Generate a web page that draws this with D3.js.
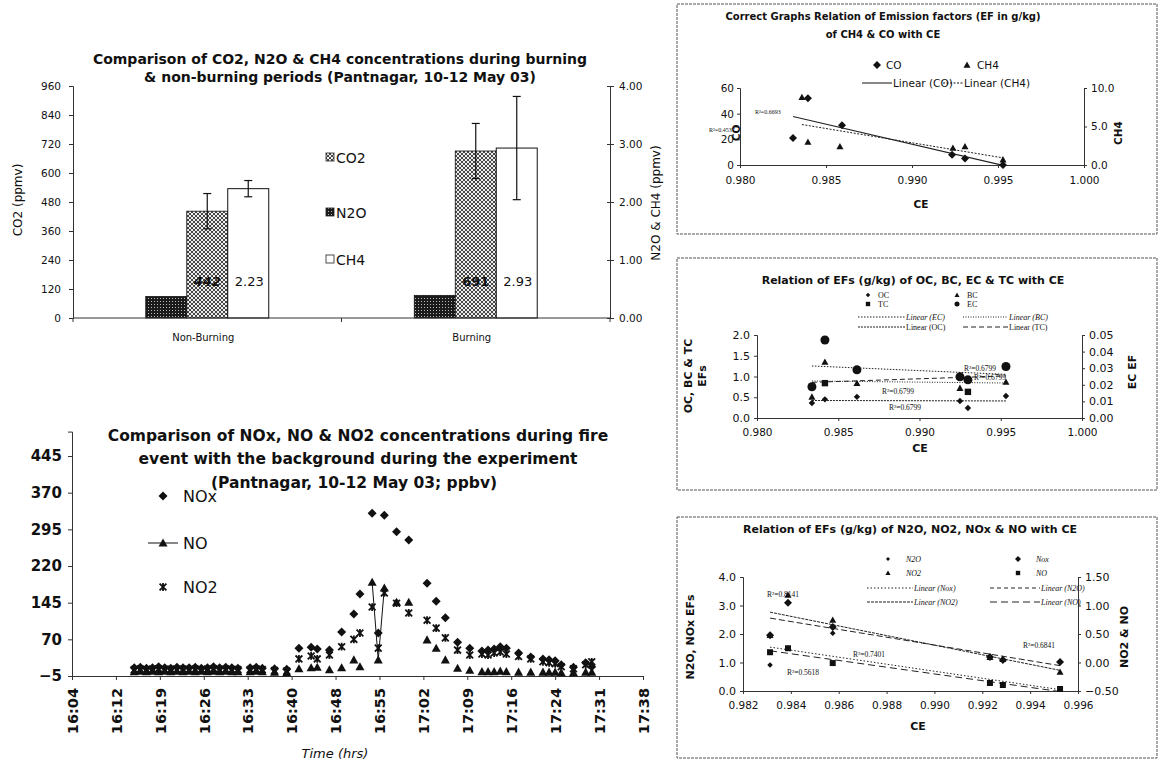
<!DOCTYPE html>
<html><head><meta charset="utf-8">
<script src="https://cdn.jsdelivr.net/npm/d3@7"></script>
<style>
body{margin:0;background:#fff;}
svg{display:block;}
text{font-family:"DejaVu Sans",Verdana,sans-serif;fill:#111;}
.serif{font-family:"Liberation Serif","DejaVu Serif",serif;}
</style></head><body>
<svg id="c" width="1159" height="763"></svg>
<script>
// ================= DATA =================
// Panel 1: bar chart
const barCategories = ["Non-Burning", "Burning"];
const legendSeries = ["CO2", "N2O", "CH4"];
const darkBarValues = [0.37, 0.39];       // right axis (ppmv)
const co2Values = [442, 691];             // left axis (ppmv)
const co2Errors = [73, 114];
const ch4Values = [2.23, 2.93];           // right axis (ppmv)
const ch4Errors = [0.14, 0.89];
const co2Ticks = [0, 120, 240, 360, 480, 600, 720, 840, 960];
const ppmvTicks = [0, 1, 2, 3, 4];

// Panel 2: NOx / NO / NO2 time series (ppbv)
const sampleTimes = ["16:15:00","16:16:00","16:17:00","16:18:00","16:19:00","16:20:00","16:21:00","16:22:00","16:23:00","16:24:00","16:25:00","16:26:00","16:27:00","16:28:00","16:29:00","16:30:00","16:31:00","16:32:00","16:34:00","16:35:00","16:36:00","16:38:00","16:40:00","16:42:00","16:44:00","16:45:00","16:47:00","16:49:00","16:51:00","16:52:00","16:54:00","16:55:00","16:56:00","16:58:00","17:00:00","17:03:00","17:04:30","17:06:00","17:08:00","17:10:00","17:12:00","17:13:00","17:14:00","17:15:00","17:16:00","17:18:00","17:20:00","17:22:00","17:23:00","17:24:00","17:25:00","17:27:00","17:29:00","17:30:00"];
const noxSeries = [12,13,11,12,14,12,11,13,12,12,13,11,12,14,12,13,12,11,12,13,11,10,9,52,54,50,48,85,122,163,328,83,324,290,273,185,148,114,64,52,46,48,50,55,52,42,34,30,28,26,18,13,22,14];
const noSeries  = [4,5,4,5,4,5,4,5,4,5,4,5,4,5,4,5,4,4,4,5,4,3,2,10,12,13,8,12,28,14,187,28,175,146,146,69,52,28,11,7,4,4,4,5,4,3,3,3,3,3,2,2,3,3];
const no2Series = [8,9,8,9,10,8,9,8,9,8,9,8,9,10,8,9,8,8,8,9,8,6,5,30,36,30,38,55,70,83,136,52,165,144,124,109,93,73,48,38,40,38,42,44,40,35,30,24,22,20,14,10,18,24];
const noLinkedTimes = ["16:54:00","16:55:00","16:56:00"];
const timeTicks = ["16:04:48","16:12:00","16:19:12","16:26:24","16:33:36","16:40:48","16:48:00","16:55:12","17:02:24","17:09:36","17:16:48","17:24:00","17:31:12","17:38:24"];
const ppbvTicks = [-5, 70, 145, 220, 295, 370, 445];

// Panel 3: CO & CH4 EF vs CE
const ceCO  = [0.98308, 0.98395, 0.98593, 0.99233, 0.99308, 0.99529];
const efCO  = [21, 52, 31, 8, 5, 0];
const ceCH4 = [0.98360, 0.98395, 0.98581, 0.99238, 0.99308, 0.99529];
const efCH4 = [8.8, 3.0, 2.4, 2.2, 2.4, 0.7];
const ceTicks3 = [0.980, 0.985, 0.990, 0.995, 1.000];
const coTicks = [0, 20, 40, 60];
const ch4Ticks = [0, 5, 10];

// Panel 4: OC, BC, EC, TC EF vs CE
const ceCarbon = [0.98338, 0.98418, 0.98615, 0.99249, 0.99298, 0.99532];
const efOC = [0.36, 0.45, 0.51, 0.41, 0.24, 0.53];
const efBC = [0.51, 1.35, 0.84, 0.72, 0.92, 0.87];
const efTC = [0.75, 0.84, 1.16, 0.99, 0.63, 1.23];
const efEC = [0.0188, 0.047, 0.029, 0.0248, 0.023, 0.031];
const ceTicks4 = [0.980, 0.985, 0.990, 0.995, 1.000];
const carbonTicks = [0, 0.5, 1.0, 1.5, 2.0];
const ecTicks = [0, 0.01, 0.02, 0.03, 0.04, 0.05];

// Panel 5: N2O, NO2, NOx, NO EF vs CE
const ceNitrogen = [0.98313, 0.98388, 0.98575, 0.99232, 0.99286, 0.99525];
const efNOx = [1.96, 3.10, 2.25, 1.19, 1.09, 1.02];
const efN2O = [0.91, 1.50, 2.03, 0.28, 0.21, 0.07];
const efNO2 = [0.48, 1.185, 0.745, 0.095, 0.06, -0.165];
const efNO  = [0.18, 0.25, -0.01, -0.36, -0.395, -0.465];
const ceTicks5 = [0.982, 0.984, 0.986, 0.988, 0.990, 0.992, 0.994, 0.996];
const nLeftTicks = [0, 1, 2, 3, 4];
const nRightTicks = [-0.5, 0, 0.5, 1.0, 1.5];

// ================= HELPERS =================
const FONT = '"DejaVu Sans",Verdana,sans-serif';
const svg = d3.select("#c");
const defs = svg.append("defs");
const pd = defs.append("pattern").attr("id","pDark").attr("width",3).attr("height",3).attr("patternUnits","userSpaceOnUse");
pd.append("rect").attr("width",3).attr("height",3).attr("fill","#1a1a1a");
pd.append("rect").attr("x",1).attr("y",1).attr("width",1).attr("height",1).attr("fill","#bbb");
const pl = defs.append("pattern").attr("id","pLight").attr("width",4).attr("height",4).attr("patternUnits","userSpaceOnUse");
pl.append("rect").attr("width",4).attr("height",4).attr("fill","#eee");
pl.append("path").attr("d","M0,0L4,4M4,0L0,4").attr("stroke","#333").attr("stroke-width",0.9);

function mk(type, r){
  switch(type){
    case "diamond": return `M0,${-r}L${r},0L0,${r}L${-r},0Z`;
    case "triangle": return `M0,${-r}L${r},${r*0.8}L${-r},${r*0.8}Z`;
    case "square": return `M${-r},${-r}h${2*r}v${2*r}h${-2*r}Z`;
    case "star": return `M${-r},${-r}L${r},${r}M${r},${-r}L${-r},${r}M0,${-r*1.15}L0,${r*1.15}`;
  }
}
function marker(g, type, r, x, y){
  if(type === "circle") return g.append("circle").attr("cx",x).attr("cy",y).attr("r",r).attr("fill","#111");
  const p = g.append("path").attr("d", mk(type, r)).attr("transform", `translate(${x},${y})`);
  if(type === "star") p.attr("fill","none").attr("stroke","#111").attr("stroke-width",1.8);
  else p.attr("fill","#111");
  return p;
}
function styleAxis(g, fs, weight){
  g.select(".domain").attr("stroke","#333").attr("stroke-width",1);
  g.selectAll(".tick line").attr("stroke","#333");
  g.selectAll("text").attr("fill","#111").style("font-size", fs + "px").style("font-weight", weight || "normal")
    .style("font-family", FONT);
}
function txt(x, y, s, fs, opt){
  opt = opt || {};
  const t = svg.append("text").attr("x",x).attr("y",y).text(s).style("font-size",fs+"px")
    .attr("text-anchor", opt.anchor || "middle").style("font-weight", opt.weight || "normal");
  if(opt.italic) t.style("font-style","italic");
  if(opt.serif) t.attr("class","serif");
  if(opt.rotate) t.attr("transform", `rotate(-90,${x},${y})`);
  return t;
}
function linReg(xs, ys){
  const mx = d3.mean(xs), my = d3.mean(ys);
  let sxy = 0, sxx = 0;
  xs.forEach((x,i) => { sxy += (x-mx)*(ys[i]-my); sxx += (x-mx)*(x-mx); });
  const b = sxy / sxx;
  return {a: my - b*mx, b: b, x0: d3.min(xs), x1: d3.max(xs)};
}
function trend(g, xs, ys, xS, yS, dash, w){
  const r = linReg(xs, ys);
  g.append("line").attr("x1", xS(r.x0)).attr("y1", yS(r.a + r.b*r.x0))
    .attr("x2", xS(r.x1)).attr("y2", yS(r.a + r.b*r.x1))
    .attr("stroke","#222").attr("stroke-width", w || 1).attr("stroke-dasharray", dash || null);
}
function box(x0, y0, x1, y1){
  svg.append("rect").attr("x",x0).attr("y",y0).attr("width",x1-x0).attr("height",y1-y0)
    .attr("fill","none").attr("stroke","#555").attr("stroke-width",1).attr("stroke-dasharray","3,1");
}

// ================= PANEL 1 =================
{
  const L = 73, R = 610, T = 86, B = 318;
  const g = svg.append("g");
  const x0 = d3.scaleBand().domain(barCategories).range([L, R]);
  const bw = x0.bandwidth();
  const x1 = d3.scaleBand().domain(["dark","light","white"]).range([bw*0.271, bw*0.729]);
  const yL = d3.scaleLinear().domain([0, 960]).range([B, T]);
  const yR = d3.scaleLinear().domain([0, 4]).range([B, T]);

  txt(340, 64, "Comparison of CO2, N2O & CH4 concentrations during burning", 14, {weight:"bold"});
  txt(340, 82, "& non-burning periods (Pantnagar, 10-12 May 03)", 14, {weight:"bold"});

  barCategories.forEach((c, i) => {
    const gx = x0(c);
    g.append("rect").attr("x", gx + x1("dark")).attr("y", yR(darkBarValues[i])).attr("width", x1.bandwidth())
      .attr("height", B - yR(darkBarValues[i])).attr("fill","url(#pDark)").attr("stroke","#111").attr("stroke-width",0.8);
    g.append("rect").attr("x", gx + x1("light")).attr("y", yL(co2Values[i])).attr("width", x1.bandwidth())
      .attr("height", B - yL(co2Values[i])).attr("fill","url(#pLight)").attr("stroke","#111").attr("stroke-width",0.8);
    g.append("rect").attr("x", gx + x1("white")).attr("y", yR(ch4Values[i])).attr("width", x1.bandwidth())
      .attr("height", B - yR(ch4Values[i])).attr("fill","#fff").attr("stroke","#111").attr("stroke-width",1);
    const ex = gx + x1("light") + x1.bandwidth()/2;
    const ey1 = yL(co2Values[i] + co2Errors[i]), ey2 = yL(co2Values[i] - co2Errors[i]);
    g.append("line").attr("x1",ex).attr("x2",ex).attr("y1",ey1).attr("y2",ey2).attr("stroke","#111").attr("stroke-width",1.2);
    [ey1, ey2].forEach(v => g.append("line").attr("x1",ex-4).attr("x2",ex+4).attr("y1",v).attr("y2",v).attr("stroke","#111").attr("stroke-width",1.2));
    const cx = gx + x1("white") + x1.bandwidth()/2;
    const cy1 = yR(ch4Values[i] + ch4Errors[i]), cy2 = yR(ch4Values[i] - ch4Errors[i]);
    g.append("line").attr("x1",cx).attr("x2",cx).attr("y1",cy1).attr("y2",cy2).attr("stroke","#111").attr("stroke-width",1.2);
    [cy1, cy2].forEach(v => g.append("line").attr("x1",cx-4).attr("x2",cx+4).attr("y1",v).attr("y2",v).attr("stroke","#111").attr("stroke-width",1.2));
    txt(ex, 286, String(co2Values[i]), 13, {italic: i === 0, weight:"bold"});
    txt(cx + 1, 286, d3.format(".2f")(ch4Values[i]), 13);
  });

  const ax = g.append("g").attr("transform", `translate(${L},0)`)
    .call(d3.axisLeft(yL).tickValues(co2Ticks).tickSize(4).tickPadding(8));
  styleAxis(ax, 10.5);
  const axr = g.append("g").attr("transform", `translate(${R},0)`)
    .call(d3.axisRight(yR).tickValues(ppmvTicks).tickFormat(d3.format(".2f")).tickSize(4).tickPadding(5));
  styleAxis(axr, 10.5);
  axr.selectAll(".tick").append("line").attr("x1",-3).attr("x2",0).attr("stroke","#333");
  g.append("line").attr("x1",L).attr("x2",R).attr("y1",B).attr("y2",B).attr("stroke","#333");
  [L, L + bw, R].forEach(v => g.append("line").attr("x1",v).attr("x2",v).attr("y1",B).attr("y2",B+4).attr("stroke","#333"));
  barCategories.forEach(c => txt(x0(c) + bw/2 - 4, 341, c, 10));

  txt(22, 200, "CO2 (ppmv)", 12, {rotate:true});
  txt(660, 203, "N2O & CH4 (ppmv)", 12, {rotate:true});

  const legFill = ["url(#pLight)", "url(#pDark)", "#fff"];
  legendSeries.forEach((s, i) => {
    const ly = [158, 213, 260][i];
    g.append("rect").attr("x",326).attr("y",ly-5).attr("width",8).attr("height",8)
      .attr("fill", legFill[i]).attr("stroke","#222").attr("stroke-width",0.8);
    txt(336, ly + 5, s, 14, {anchor:"start"});
  });
}

// ================= PANEL 2 =================
{
  const g = svg.append("g");
  const parseT = d3.timeParse("%H:%M:%S");
  const xT = d3.scaleTime().domain([parseT(timeTicks[0]), parseT(timeTicks[timeTicks.length-1])]).range([72, 643]);
  const yN = d3.scaleLinear().domain([-5, 495]).range([676, 431.6]);

  txt(358, 441, "Comparison of NOx, NO & NO2 concentrations during fire", 15.5, {weight:"bold"});
  txt(358, 464, "event with the background during the experiment", 15.5, {weight:"bold"});
  txt(354, 488, "(Pantnagar, 10-12 May 03; ppbv)", 15.5, {weight:"bold"});

  const ay = g.append("g").attr("transform","translate(72,0)")
    .call(d3.axisLeft(yN).tickValues(ppbvTicks).tickSize(4).tickPadding(6));
  styleAxis(ay, 15, "bold");
  const axx = g.append("g").attr("transform", `translate(0,${yN(-5)})`)
    .call(d3.axisBottom(xT).tickValues(timeTicks.map(parseT)).tickFormat(d3.timeFormat("%H:%M")).tickSize(4));
  styleAxis(axx, 14.5, "bold");
  axx.selectAll("text").attr("transform","rotate(-90)").attr("x",-12).attr("y",0).attr("dy","0.36em").style("text-anchor","end");

  const rows = sampleTimes.map((t, i) => ({t: parseT(t), s: t, nox: noxSeries[i], no: noSeries[i], no2: no2Series[i]}));
  const line = d3.line().defined(d => noLinkedTimes.includes(d.s)).x(d => xT(d.t)).y(d => yN(d.no));
  g.append("path").datum(rows).attr("d", line).attr("fill","none").attr("stroke","#111").attr("stroke-width",1);
  rows.forEach(d => {
    marker(g, "diamond", 4.5, xT(d.t), yN(d.nox));
    marker(g, "triangle", 4.5, xT(d.t), yN(d.no));
    marker(g, "star", 3.4, xT(d.t), yN(d.no2));
  });

  marker(g, "diamond", 4.5, 163, 496);
  txt(183, 502, "NOx", 16, {anchor:"start"});
  g.append("line").attr("x1",148).attr("x2",178).attr("y1",543).attr("y2",543).attr("stroke","#111");
  marker(g, "triangle", 4.5, 163, 543);
  txt(183, 549, "NO", 16, {anchor:"start"});
  marker(g, "star", 3.4, 163, 587);
  txt(183, 593, "NO2", 16, {anchor:"start"});

  txt(335, 758, "Time (hrs)", 13, {italic:true});
}

// ================= PANEL 3 =================
{
  box(677, 4, 1157, 234);
  const g = svg.append("g");
  const x = d3.scaleLinear().domain([0.980, 1.000]).range([740, 1084]);
  const yL = d3.scaleLinear().domain([0, 60]).range([165, 88]);
  const yR = d3.scaleLinear().domain([0, 10]).range([165, 88]);
  txt(883, 20, "Correct Graphs Relation of Emission factors (EF in g/kg)", 10, {weight:"bold"});
  txt(883, 38, "of CH4 & CO with CE", 10, {weight:"bold"});

  const ax = g.append("g").attr("transform","translate(0,165)").call(d3.axisBottom(x).tickValues(ceTicks3).tickFormat(d3.format(".3f")).tickSize(3).tickPadding(9));
  styleAxis(ax, 10.5);
  const ayl = g.append("g").attr("transform","translate(740,0)").call(d3.axisLeft(yL).tickValues(coTicks).tickSize(3).tickPadding(3));
  styleAxis(ayl, 10.5);
  const ayr = g.append("g").attr("transform","translate(1084,0)").call(d3.axisRight(yR).tickValues(ch4Ticks).tickFormat(d3.format(".1f")).tickSize(3).tickPadding(4));
  styleAxis(ayr, 10.5);
  txt(921, 208, "CE", 10.5, {weight:"bold"});
  txt(740, 133, "CO", 10.5, {weight:"bold", rotate:true});
  txt(1122, 133, "CH4", 10.5, {weight:"bold", rotate:true});

  trend(g, ceCO, efCO, x, yL, null, 1.1);
  trend(g, ceCH4, efCH4, x, yR, "2,1.5", 1);
  ceCO.forEach((c, i) => marker(g, "diamond", 4, x(c), yL(efCO[i])));
  ceCH4.forEach((c, i) => marker(g, "triangle", 3.5, x(c), yR(efCH4[i])));
  txt(755, 114, "R²=0.6693", 6, {anchor:"start", serif:true});
  txt(709, 132, "R²=0.4537", 6, {anchor:"start", serif:true});

  marker(g, "diamond", 4, 877, 65);
  txt(886, 69, "CO", 10.5, {anchor:"start"});
  marker(g, "triangle", 3.5, 967, 65);
  txt(977, 69, "CH4", 10.5, {anchor:"start"});
  g.append("line").attr("x1",862).attr("x2",892).attr("y1",83).attr("y2",83).attr("stroke","#111");
  txt(893, 87, "Linear (CO)", 10.5, {anchor:"start"});
  g.append("line").attr("x1",943).attr("x2",963).attr("y1",83).attr("y2",83).attr("stroke","#111").attr("stroke-dasharray","2,1.5");
  txt(964, 87, "Linear (CH4)", 10.5, {anchor:"start"});
}

// ================= PANEL 4 =================
{
  box(677, 258, 1157, 490);
  const g = svg.append("g");
  const x = d3.scaleLinear().domain([0.980, 1.000]).range([757, 1082]);
  const yL = d3.scaleLinear().domain([0, 2]).range([418, 335]);
  const yR = d3.scaleLinear().domain([0, 0.05]).range([418, 335]);
  txt(913, 284, "Relation of EFs (g/kg) of OC, BC, EC & TC with CE", 11, {weight:"bold"});

  const ax = g.append("g").attr("transform","translate(0,418)").call(d3.axisBottom(x).tickValues(ceTicks4).tickFormat(d3.format(".3f")).tickSize(3).tickPadding(8));
  styleAxis(ax, 10.5);
  const ayl = g.append("g").attr("transform","translate(757,0)").call(d3.axisLeft(yL).tickValues(carbonTicks).tickFormat(d3.format(".1f")).tickSize(3).tickPadding(4));
  styleAxis(ayl, 11);
  const ayr = g.append("g").attr("transform","translate(1082,0)").call(d3.axisRight(yR).tickValues(ecTicks).tickFormat(d3.format(".2f")).tickSize(3).tickPadding(4));
  styleAxis(ayr, 11);
  txt(920, 452, "CE", 11, {weight:"bold"});
  txt(692, 376, "OC, BC & TC", 11, {weight:"bold", rotate:true});
  txt(706, 376, "EFs", 11, {weight:"bold", rotate:true});
  txt(1136, 372, "EC EF", 11, {weight:"bold", rotate:true});

  trend(g, ceCarbon, efEC, x, yR, "1.5,1.5", 1);
  trend(g, ceCarbon, efBC, x, yL, "1,1.5", 1);
  trend(g, ceCarbon, efOC, x, yL, "2,1", 1);
  trend(g, ceCarbon, efTC, x, yL, "5,3", 1);
  ceCarbon.forEach((c, i) => {
    marker(g, "square", 3.2, x(c), yL(efTC[i]));
    marker(g, "circle", 4.5, x(c), yR(efEC[i]));
    marker(g, "triangle", 3.5, x(c), yL(efBC[i]));
    marker(g, "diamond", 3.2, x(c), yL(efOC[i]));
  });
  txt(898, 394, "R²=0.6799", 7.5, {serif:true});
  txt(905, 410, "R²=0.6799", 7.5, {serif:true});
  txt(980, 371, "R²=0.6799", 7.5, {serif:true});
  txt(990, 380, "R²=0.6799", 7.5, {serif:true});

  marker(g, "diamond", 2.2, 868, 295); txt(878, 298, "OC", 8, {anchor:"start", serif:true});
  marker(g, "triangle", 2.5, 957, 295); txt(967, 298, "BC", 8, {anchor:"start", serif:true});
  marker(g, "square", 2.2, 868, 304); txt(878, 307, "TC", 8, {anchor:"start", serif:true});
  marker(g, "circle", 2.5, 957, 304); txt(967, 307, "EC", 8, {anchor:"start", serif:true});
  g.append("line").attr("x1",858).attr("x2",905).attr("y1",317).attr("y2",317).attr("stroke","#222").attr("stroke-dasharray","1.5,1.5");
  txt(906, 320, "Linear (EC)", 8, {anchor:"start", serif:true, italic:true});
  g.append("line").attr("x1",963).attr("x2",1008).attr("y1",317).attr("y2",317).attr("stroke","#222").attr("stroke-dasharray","1,1.5");
  txt(1009, 320, "Linear (BC)", 8, {anchor:"start", serif:true, italic:true});
  g.append("line").attr("x1",858).attr("x2",905).attr("y1",327).attr("y2",327).attr("stroke","#222").attr("stroke-dasharray","2,1");
  txt(906, 330, "Linear (OC)", 8, {anchor:"start", serif:true});
  g.append("line").attr("x1",963).attr("x2",1008).attr("y1",327).attr("y2",327).attr("stroke","#222").attr("stroke-dasharray","5,3");
  txt(1009, 330, "Linear (TC)", 8, {anchor:"start", serif:true});
}

// ================= PANEL 5 =================
{
  box(677, 517, 1157, 758);
  const g = svg.append("g");
  const x = d3.scaleLinear().domain([0.982, 0.996]).range([743, 1078]);
  const yL = d3.scaleLinear().domain([0, 4]).range([691, 577]);
  const yR = d3.scaleLinear().domain([-0.5, 1.5]).range([691, 577]);
  txt(910, 533, "Relation of EFs (g/kg) of N2O, NO2, NOx & NO with CE", 11, {weight:"bold"});

  const ax = g.append("g").attr("transform","translate(0,691)").call(d3.axisBottom(x).tickValues(ceTicks5).tickFormat(d3.format(".3f")).tickSize(3).tickPadding(8));
  styleAxis(ax, 10.5);
  const ayl = g.append("g").attr("transform","translate(743,0)").call(d3.axisLeft(yL).tickValues(nLeftTicks).tickFormat(d3.format(".1f")).tickSize(3).tickPadding(4));
  styleAxis(ayl, 11);
  const ayr = g.append("g").attr("transform","translate(1078,0)").call(d3.axisRight(yR).tickValues(nRightTicks).tickFormat(d3.format(".2f")).tickSize(3).tickPadding(4));
  styleAxis(ayr, 11);
  txt(918, 730, "CE", 11, {weight:"bold"});
  txt(694, 637, "N2O, NOx EFs", 11, {weight:"bold", rotate:true});
  txt(1128, 637, "NO2 & NO", 11, {weight:"bold", rotate:true});

  trend(g, ceNitrogen, efNOx, x, yL, "6,3", 1);
  trend(g, ceNitrogen, efN2O, x, yL, "1.5,2", 1);
  trend(g, ceNitrogen, efNO2, x, yR, "3,1", 1);
  trend(g, ceNitrogen, efNO, x, yR, "7,4", 1);
  ceNitrogen.forEach((c, i) => {
    marker(g, "diamond", 4, x(c), yL(efNOx[i]));
    marker(g, "diamond", 2.8, x(c), yL(efN2O[i]));
    marker(g, "triangle", 3.5, x(c), yR(efNO2[i]));
    marker(g, "square", 3, x(c), yR(efNO[i]));
  });
  txt(783, 597, "R²=0.8141", 7.5, {serif:true});
  txt(869, 657, "R²=0.7401", 7.5, {serif:true});
  txt(803, 675, "R²=0.5618", 7.5, {serif:true});
  txt(1039, 648, "R²=0.6841", 7.5, {serif:true});

  marker(g, "diamond", 2, 888, 559); txt(906, 562, "N2O", 8, {anchor:"start", serif:true, italic:true});
  marker(g, "diamond", 3, 1018, 559); txt(1036, 562, "Nox", 8, {anchor:"start", serif:true, italic:true});
  marker(g, "triangle", 2.6, 888, 573); txt(906, 576, "NO2", 8, {anchor:"start", serif:true, italic:true});
  marker(g, "square", 2.2, 1018, 573); txt(1036, 576, "NO", 8, {anchor:"start", serif:true, italic:true});
  g.append("line").attr("x1",867).attr("x2",913).attr("y1",588).attr("y2",588).attr("stroke","#222").attr("stroke-dasharray","1.5,2");
  txt(914, 591, "Linear (Nox)", 8, {anchor:"start", serif:true, italic:true});
  g.append("line").attr("x1",990).attr("x2",1040).attr("y1",588).attr("y2",588).attr("stroke","#222").attr("stroke-dasharray","4,3");
  txt(1041, 591, "Linear (N2O)", 8, {anchor:"start", serif:true, italic:true});
  g.append("line").attr("x1",867).attr("x2",913).attr("y1",602).attr("y2",602).attr("stroke","#222").attr("stroke-dasharray","3,1");
  txt(914, 605, "Linear (NO2)", 8, {anchor:"start", serif:true, italic:true});
  g.append("line").attr("x1",990).attr("x2",1040).attr("y1",602).attr("y2",602).attr("stroke","#222").attr("stroke-dasharray","7,4");
  txt(1041, 605, "Linear (NO)", 8, {anchor:"start", serif:true, italic:true});
}
</script>
</body></html>
